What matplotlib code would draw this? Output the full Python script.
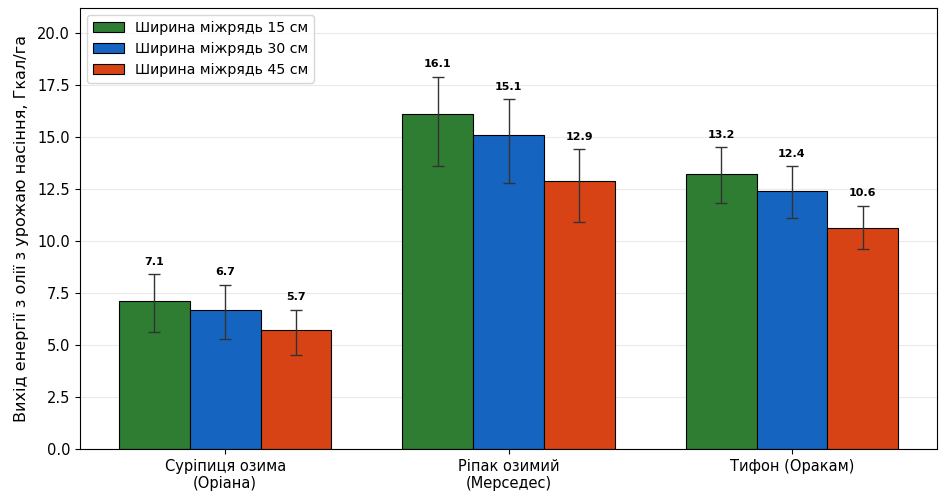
import matplotlib
matplotlib.use('Agg')
import matplotlib.pyplot as plt
import numpy as np

# data
categories = ['Суріпиця озима\n(Оріана)', 'Ріпак озимий\n(Мерседес)', 'Тифон (Оракам)']
series = ['Ширина міжрядь 15 см', 'Ширина міжрядь 30 см', 'Ширина міжрядь 45 см']
values = [[7.1, 16.1, 13.2],
          [6.7, 15.1, 12.4],
          [5.7, 12.9, 10.6]]
err_low = [[1.5, 2.5, 1.4],
           [1.4, 2.3, 1.3],
           [1.2, 2.0, 1.0]]
err_high = [[1.3, 1.8, 1.3],
            [1.2, 1.7, 1.2],
            [1.0, 1.5, 1.1]]
colors = ['#2e7d32', '#1565c0', '#d84315']

fig = plt.figure(figsize=(9.4, 4.96), dpi=100)
ax = fig.add_axes([0.085, 0.095, 0.912, 0.889])

x = np.arange(len(categories))
w = 0.25
for i in range(3):
    pos = x + (i - 1) * w
    ax.bar(pos, values[i], w, color=colors[i], edgecolor='black', linewidth=0.8,
           label=series[i], zorder=2)
    ax.errorbar(pos, values[i], yerr=[err_low[i], err_high[i]], fmt='none',
                ecolor='#333333', elinewidth=1, capsize=4, capthick=1, zorder=3)
    for p, v, e in zip(pos, values[i], err_high[i]):
        ax.text(p, v + e + 0.35, '%.1f' % v, ha='center', va='bottom',
                fontsize=8, fontweight='bold')

ax.set_xticks(x)
ax.set_xticklabels(categories, fontsize=10.5)
ax.set_ylim(0, 21.2)
ax.set_yticks(np.arange(0, 20.1, 2.5))
ax.tick_params(axis='y', labelsize=10.5)
ax.set_ylabel('Вихід енергії з олії з урожаю насіння, Гкал/га', fontsize=11.5, labelpad=6)
ax.yaxis.grid(True, color='#dddddd', alpha=0.6, linewidth=0.8, zorder=0)
ax.set_axisbelow(True)
ax.legend(loc='upper left', fontsize=10.2, handlelength=2.2)

fig.savefig('out.png', dpi=100)
